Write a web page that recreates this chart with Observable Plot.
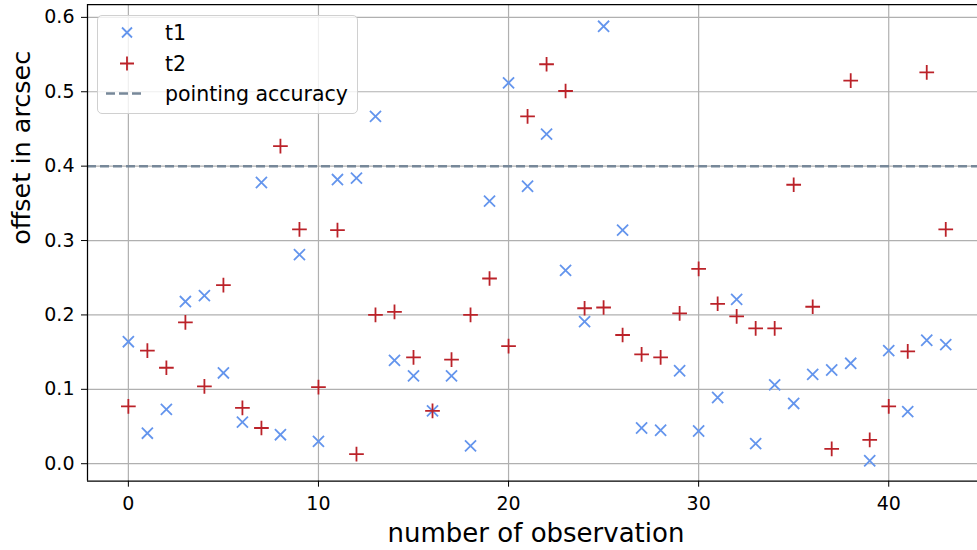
<!DOCTYPE html>
<html>
<head>
<meta charset="utf-8">
<script src="https://cdn.jsdelivr.net/npm/d3@7"></script>
<script src="https://cdn.jsdelivr.net/npm/@observablehq/plot@0.6"></script>
<style>
  html, body { margin: 0; padding: 0; background: #fff; }
  body { font-family: "DejaVu Sans", sans-serif; }
  #wrap { position: relative; width: 977px; height: 550px; overflow: hidden; }
  #wrap svg { display: block; }
  #legend { position: absolute; left: 97px; top: 15px; width: 259px; height: 97px;
            border: 1px solid #d0d0d0; border-radius: 5px; background: rgba(255,255,255,0.8); }
  #legend svg text { font-family: "DejaVu Sans", sans-serif; font-size: 20.5px; fill: #000; }
</style>
</head>
<body>
<div id="wrap"></div>
<script>
// ---- data ----
const observation = [0,1,2,3,4,5,6,7,8,9,10,11,12,13,14,15,16,17,18,19,20,21,
                     22,23,24,25,26,27,28,29,30,31,32,33,34,35,36,37,38,39,40,41,42,43];
const t1 = [0.164,0.041,0.073,0.218,0.226,0.122,0.056,0.378,0.039,0.281,0.030,0.382,
            0.384,0.467,0.139,0.118,0.071,0.118,0.024,0.353,0.512,0.373,0.443,0.260,
            0.191,0.588,0.314,0.048,0.045,0.125,0.044,0.089,0.221,0.027,0.106,0.081,
            0.120,0.126,0.135,0.004,0.152,0.070,0.166,0.160];
const t2 = [0.077,0.152,0.129,0.190,0.104,0.240,0.075,0.048,0.427,0.315,0.103,0.314,
            0.013,0.200,0.204,0.143,0.071,0.140,0.200,0.249,0.158,0.467,0.537,0.501,
            0.209,0.210,0.173,0.147,0.143,0.202,0.262,0.215,0.198,0.182,0.182,0.375,
            0.211,0.020,0.515,0.032,0.077,0.151,0.526,0.315];
const pointingAccuracy = 0.4;
const xTicks = [0, 10, 20, 30, 40];
const yTicks = [0.0, 0.1, 0.2, 0.3, 0.4, 0.5, 0.6];
const xLabel = "number of observation";
const yLabel = "offset in arcsec";
const seriesNames = ["t1", "t2", "pointing accuracy"];

const xDomain = [-2.15, 44.67];
const yDomain = [-0.0235, 0.6173];

const rows = observation.map((o, i) => ({obs: o, t1: t1[i], t2: t2[i]}));

const blue = "#6495ED";
const red = "#bb2229";
const slate = "#778899";

const chart = Plot.plot({
  width: 977,
  height: 550,
  marginLeft: 87,
  marginRight: 0,
  marginTop: 4,
  marginBottom: 69.3,
  style: {fontFamily: "DejaVu Sans, sans-serif", fontSize: "19px", color: "#000", background: "#fff"},
  x: {domain: xDomain, axis: null},
  y: {domain: yDomain, axis: null},
  marks: [
    Plot.gridX(xTicks, {stroke: "#b0b0b0", strokeOpacity: 1, strokeWidth: 1.2}),
    Plot.gridY(yTicks, {stroke: "#b0b0b0", strokeOpacity: 1, strokeWidth: 1.2}),
    Plot.dot(rows, {x: "obs", y: "t1", symbol: "times", r: 5.1, stroke: blue, strokeWidth: 1.8}),
    Plot.dot(rows, {x: "obs", y: "t2", symbol: "plus", r: 4.8, stroke: red, strokeWidth: 1.8}),
    Plot.ruleY([pointingAccuracy], {stroke: slate, strokeWidth: 2.5, strokeDasharray: "9,4"}),
    Plot.ruleX([xDomain[0]], {stroke: "#000", strokeWidth: 1.25}),
    Plot.ruleY([yDomain[0], yDomain[1]], {stroke: "#000", strokeWidth: 1.25}),
    Plot.axisX(xTicks, {tickSize: 6, tickPadding: 9, label: null, fontSize: 19}),
    Plot.axisY(yTicks, {tickSize: 6, tickPadding: 7, label: null, fontSize: 19, tickFormat: d3.format(".1f")}),
    Plot.text([xLabel], {text: d => d, frameAnchor: "bottom", lineAnchor: "middle", dy: 52, dx: 3.5, fontSize: 26}),
    Plot.text([yLabel], {text: d => d, frameAnchor: "left", lineAnchor: "middle", rotate: -90, dx: -66, dy: 2, fontSize: 25.5})
  ]
});

const wrap = document.getElementById("wrap");
wrap.appendChild(chart);

// legend overlay inside the plot area (upper left)
const legend = document.createElement("div");
legend.id = "legend";
wrap.appendChild(legend);
const lsvg = d3.select(legend).append("svg").attr("width", 259).attr("height", 97);
const rowY = [16.5, 47.5, 77.5];
// t1 marker (times)
lsvg.append("path").attr("d", `M24,${rowY[0]-5}L34,${rowY[0]+5}M24,${rowY[0]+5}L34,${rowY[0]-5}`)
  .attr("stroke", blue).attr("stroke-width", 1.8).attr("fill", "none");
// t2 marker (plus)
lsvg.append("path").attr("d", `M22,${rowY[1]}H36M29,${rowY[1]-7}V${rowY[1]+7}`)
  .attr("stroke", red).attr("stroke-width", 1.8).attr("fill", "none");
// pointing accuracy dashed line
lsvg.append("line").attr("x1", 8).attr("x2", 45).attr("y1", rowY[2]).attr("y2", rowY[2])
  .attr("stroke", slate).attr("stroke-width", 2.5).attr("stroke-dasharray", "9,4");
seriesNames.forEach((name, i) => {
  lsvg.append("text").attr("x", 67).attr("y", rowY[i]).attr("dy", "0.35em").text(name);
});
</script>
</body>
</html>
